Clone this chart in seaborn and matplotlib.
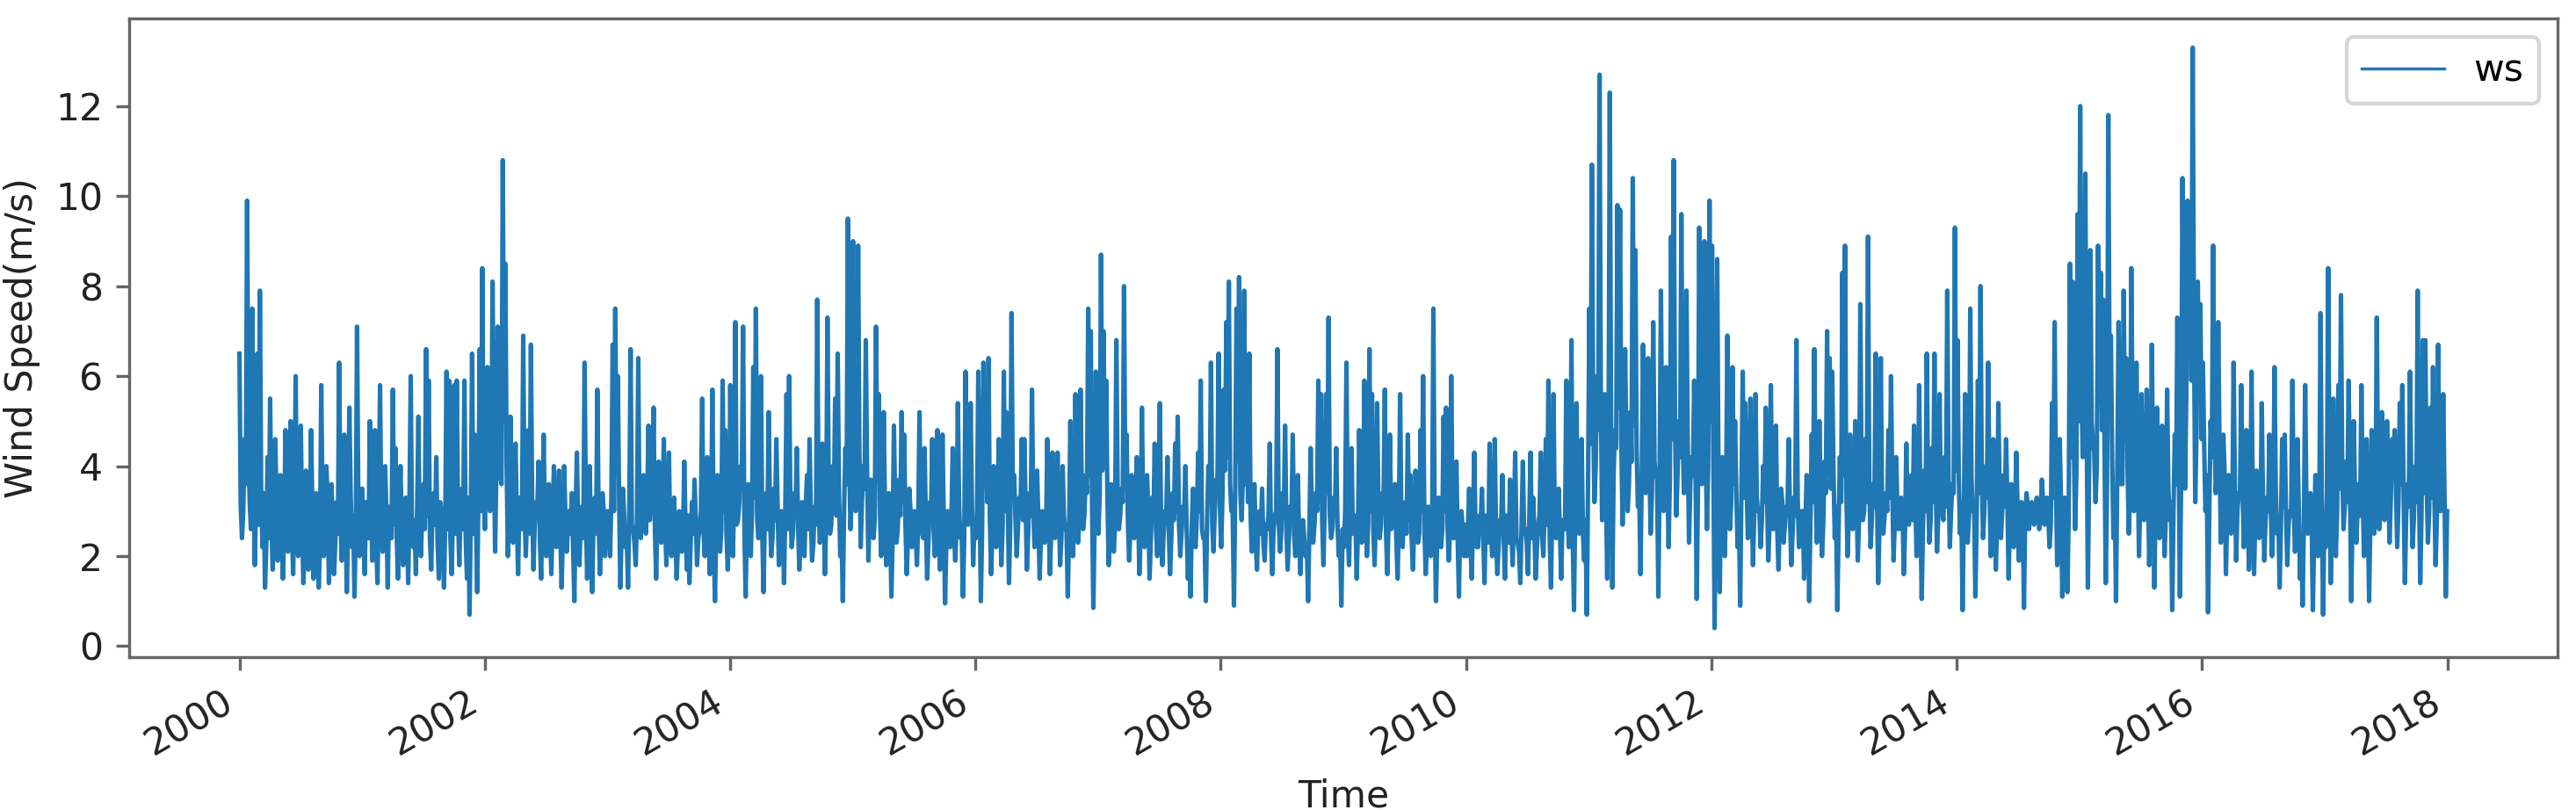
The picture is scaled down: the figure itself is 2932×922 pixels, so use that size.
import numpy as np
import pandas as pd
import matplotlib
matplotlib.use("Agg")
import matplotlib.pyplot as plt
import matplotlib.dates as mdates
import seaborn as sns

# Wind speed (m/s).
# ws_YYYY: readings at the start of each ~7.6-day slot (spikes / dips);
# ws_YYYY_mid: readings of the dense core band in the middle of each slot.
ws_2000 = [6.5,2.4,4.6,9.9,3.2,7.5,1.8,6.5,7.9,2.2,1.3,4.2,
           5.5,1.7,4.6,1.9,3.8,1.5,4.8,2.1,5.0,1.6,6.0,2.0,
           4.9,1.4,3.9,1.7,4.8,1.5,3.4,1.3,5.8,2.0,4.0,1.4,
           3.6,1.6,3.2,6.3,1.9,4.7,1.2,5.3,2.2,1.1,7.1,2.0]
ws_2000_mid = [3.1,3.0,3.6,4.4,2.6,4.0,3.3,2.7,3.5,3.4,2.2,2.4,
               2.9,2.5,3.2,2.3,3.0,2.6,2.9,3.4,2.7,3.1,2.4,3.3,
               2.8,2.1,3.0,2.5,3.2,2.4,2.9,2.2,3.1,2.6,3.3,2.4,
               2.8,2.3,2.5,3.0,2.4,3.1,2.7,3.4,2.9,2.6,3.2,2.7]
ws_2001 = [3.5,1.6,2.8,5.0,1.9,4.8,1.4,5.8,2.1,4.0,1.3,3.1,
           5.7,4.4,1.5,4.0,1.8,3.3,1.4,6.0,2.2,1.6,5.1,2.0,
           3.6,6.6,5.9,1.7,3.4,4.2,1.5,3.0,1.3,6.1,5.9,1.6,
           5.8,5.9,1.8,3.5,5.9,1.5,0.7,6.5,4.7,1.2,6.6,8.4]
ws_2001_mid = [2.6,3.2,2.4,3.0,2.8,2.3,3.3,2.7,2.5,2.9,3.1,2.4,
               2.7,2.5,3.0,2.6,2.3,2.9,3.2,2.5,2.8,3.0,2.4,3.1,
               2.6,2.9,2.4,3.0,2.7,2.3,3.2,2.5,2.8,2.6,2.4,3.0,
               2.5,2.9,3.1,2.6,2.4,3.3,2.9,2.5,2.8,3.4,3.0,3.6]
ws_2002 = [2.6,6.2,3.0,8.1,2.1,7.1,3.8,10.8,8.5,2.0,5.1,2.3,
           4.5,1.6,3.3,6.9,2.0,4.8,6.7,1.7,3.2,4.1,1.5,4.7,
           2.0,3.6,1.6,4.0,2.2,3.9,1.3,4.0,2.1,3.0,3.4,1.0,
           4.3,1.8,3.1,6.3,1.5,4.0,1.2,3.3,5.7,1.6,3.4,2.0]
ws_2002_mid = [3.8,4.2,3.5,4.6,3.9,4.4,3.6,5.0,4.1,3.4,3.0,3.7,
               2.8,3.3,2.6,3.1,2.9,2.5,3.2,2.7,3.0,2.4,2.9,2.6,
               3.1,2.5,2.8,2.3,3.0,2.6,2.4,2.9,2.7,2.5,2.2,3.0,
               2.6,2.8,2.4,3.1,2.7,2.3,2.9,2.5,2.8,2.4,3.0,2.6]
ws_2003 = [3.0,2.0,6.7,7.5,6.0,1.3,3.5,2.2,1.3,6.6,2.6,1.8,
           6.4,2.4,3.8,2.5,4.9,3.2,5.3,1.5,4.1,2.3,4.6,1.8,
           4.3,2.0,3.3,1.5,3.0,2.1,4.1,1.7,1.4,3.2,3.7,1.8,
           2.6,5.5,2.0,4.2,1.6,5.7,1.0,3.8,2.1,5.9,4.8,1.7]
ws_2003_mid = [2.8,3.4,3.0,3.9,3.3,2.6,2.9,2.4,3.1,2.7,2.3,2.9,
               2.6,3.0,2.7,3.2,2.8,3.5,2.6,3.0,2.5,2.9,2.7,3.1,
               2.4,2.8,2.5,2.2,2.7,2.4,2.6,2.9,2.3,2.5,2.8,2.4,
               3.0,2.6,2.9,2.5,2.8,2.4,2.7,3.1,2.6,3.0,2.5,2.8]
ws_2004 = [5.8,2.0,7.2,2.8,4.0,7.1,1.1,3.6,2.0,6.2,7.5,2.4,
           6.0,1.2,3.4,5.2,2.0,3.5,4.6,1.8,3.0,1.4,5.6,6.0,
           2.2,3.4,4.4,1.7,3.2,2.0,3.8,4.6,1.9,3.1,7.7,2.3,
           4.5,1.6,7.3,2.5,4.0,5.5,6.5,2.0,1.0,4.4,9.5,2.6]
ws_2004_mid = [3.0,3.4,2.7,3.2,3.6,2.6,2.9,2.5,3.0,3.3,2.8,3.1,
               2.5,2.9,2.6,3.0,2.4,2.8,3.1,2.5,2.7,3.0,2.6,3.2,
               2.5,2.9,2.7,2.4,2.8,3.1,2.6,2.9,2.3,2.7,3.3,2.6,
               3.0,2.8,3.4,2.7,3.1,2.9,3.5,2.6,3.0,3.6,4.2,3.4]
ws_2005 = [9.0,3.0,8.9,2.2,4.0,6.8,1.9,3.7,2.4,7.1,5.6,2.0,
           5.2,1.8,3.4,1.1,4.9,2.3,3.7,5.2,4.7,1.6,3.5,2.2,
           3.0,1.8,5.2,2.5,4.4,1.5,3.2,4.6,2.0,4.8,1.7,4.7,
           0.95,3.0,2.2,4.4,1.9,5.4,2.4,1.1,6.1,2.7,5.4,1.8]
ws_2005_mid = [4.0,3.6,4.3,3.2,3.5,3.9,2.9,3.3,2.8,3.7,3.1,2.6,
               3.0,2.5,2.8,2.4,3.1,2.6,2.9,3.2,2.7,2.4,3.0,2.6,
               2.5,2.8,3.0,2.4,2.7,2.3,2.9,2.6,2.5,3.0,2.4,2.8,
               2.3,2.6,2.9,2.5,2.7,3.1,2.6,2.4,3.0,2.8,3.2,2.7]
ws_2006 = [2.4,6.1,1.0,6.3,5.2,6.4,1.6,4.0,2.2,4.6,1.8,6.1,
           5.2,1.4,7.4,3.8,2.0,3.3,4.6,4.6,1.7,3.4,5.7,2.2,
           3.9,1.5,3.0,2.3,4.6,1.6,4.3,2.4,4.3,1.8,4.0,2.6,
           1.1,5.0,2.0,5.6,2.3,5.7,2.6,3.8,7.5,7.0,0.85,6.1]
ws_2006_mid = [3.0,3.4,2.6,3.6,3.2,2.9,2.5,3.1,2.8,3.3,2.6,3.0,
               3.4,2.7,3.5,2.9,2.6,3.0,2.8,3.2,2.5,2.9,3.1,2.6,
               2.8,2.4,2.9,2.6,3.0,2.5,2.8,2.7,3.1,2.4,2.9,2.6,
               2.5,3.0,2.7,3.2,2.8,3.3,2.9,3.4,3.8,3.1,2.7,3.5]
ws_2007 = [2.5,8.7,7.0,5.9,1.8,3.6,2.1,6.8,2.6,3.5,8.0,4.7,
           1.9,3.8,2.4,4.2,1.6,5.3,2.2,3.8,1.5,3.3,4.5,2.0,
           5.4,1.8,3.0,4.2,1.6,3.4,4.5,5.1,2.0,3.1,4.0,1.5,
           1.1,3.5,2.2,4.3,5.9,2.4,1.0,4.0,6.3,2.1,3.7,6.5]
ws_2007_mid = [3.4,3.9,4.0,3.3,2.8,3.0,2.7,3.5,2.9,3.2,3.6,2.8,
               2.6,3.0,2.7,3.1,2.5,2.9,2.6,3.0,2.4,2.8,2.6,3.1,
               2.7,2.5,2.9,2.6,2.4,2.8,3.0,2.7,2.5,2.9,2.6,2.3,
               2.7,2.5,2.9,3.0,2.6,2.4,2.8,3.2,2.7,3.0,3.4,3.1]
ws_2008 = [2.2,5.7,7.2,8.1,3.0,0.9,7.5,8.2,2.8,7.9,6.1,6.5,
           2.1,3.6,1.7,3.0,3.5,1.9,2.6,4.5,1.6,2.9,6.6,2.1,
           3.4,4.9,1.7,3.1,4.7,2.0,3.8,1.6,2.8,2.0,1.0,4.4,
           2.3,3.4,5.9,5.6,1.8,5.6,7.3,2.4,3.3,4.4,2.0,0.9]
ws_2008_mid = [3.3,3.9,4.2,3.6,3.0,3.5,4.1,3.4,3.8,3.6,3.2,2.9,
               2.7,2.4,2.8,2.5,2.3,2.7,2.9,2.4,2.6,3.0,2.8,2.5,
               2.9,2.6,2.4,2.8,2.5,2.7,2.3,2.6,2.4,2.2,2.6,2.9,
               2.7,3.0,3.2,2.8,3.1,3.4,2.9,2.6,3.0,2.7,2.4,2.6]
ws_2009 = [2.2,6.3,1.8,4.4,2.5,1.5,4.8,2.3,5.9,2.0,6.6,5.6,
           1.8,5.4,2.4,3.4,5.7,1.6,4.7,2.7,3.6,1.5,5.6,2.2,
           3.2,4.7,3.8,1.7,3.9,2.3,4.8,6.0,1.6,3.1,2.0,7.5,
           1.0,3.3,2.2,5.1,5.3,1.9,6.0,2.4,4.1,1.1,3.0,2.0]
ws_2009_mid = [3.0,2.7,3.1,2.5,2.9,2.6,3.2,2.8,3.4,2.7,3.0,2.6,
               2.9,3.1,2.7,3.2,2.5,2.9,2.6,3.0,2.4,2.8,2.6,3.1,
               2.5,2.8,2.4,2.7,2.9,2.5,3.0,2.6,2.3,2.7,2.5,2.9,
               2.4,2.8,2.6,3.0,2.7,2.5,2.9,2.6,2.4,2.8,2.5,2.7]
ws_2010 = [2.0,3.5,1.5,4.3,2.2,2.9,3.5,1.4,2.6,4.5,2.0,4.6,
           1.6,2.8,3.8,1.5,2.5,3.7,1.8,4.3,2.3,1.4,4.1,2.6,
           1.6,4.3,3.3,1.5,2.7,4.3,2.0,4.6,5.9,1.3,5.6,2.4,
           3.5,1.5,2.8,5.9,2.2,6.8,0.8,5.4,2.5,4.6,1.9,0.7]
ws_2010_mid = [2.6,2.3,2.8,2.5,2.2,2.7,2.4,2.9,2.3,2.6,2.8,2.5,
               2.2,2.7,2.4,2.9,2.3,2.6,2.8,2.4,2.1,2.7,2.5,2.3,
               2.8,2.4,2.6,2.2,2.9,2.5,3.0,2.7,2.4,3.1,2.6,2.9,
               2.5,2.8,2.6,3.0,2.7,2.4,3.2,2.6,2.9,2.5,2.8,3.6]
ws_2011 = [7.5,10.7,3.2,6.0,12.7,2.8,5.6,1.5,12.3,1.3,4.8,9.8,
           9.7,2.7,6.6,3.0,5.2,10.4,8.8,3.1,1.6,6.7,3.4,6.4,
           2.5,7.2,3.8,1.1,7.9,3.0,6.2,2.2,9.1,10.8,2.9,5.0,
           9.6,3.4,7.9,2.3,4.2,5.9,1.05,9.3,3.6,9.0,2.6,9.9]
ws_2011_mid = [4.5,5.2,4.0,4.8,5.5,3.9,3.6,4.2,5.0,3.8,4.4,5.3,
               4.6,3.9,4.3,3.6,4.1,4.9,4.4,3.5,3.8,4.2,3.6,4.0,
               3.4,4.1,3.7,3.9,4.3,3.5,4.0,3.7,4.6,5.1,3.8,4.2,
               4.7,3.9,4.4,3.6,3.8,4.1,3.5,4.8,3.9,4.5,4.0,5.0]
ws_2012 = [8.9,0.4,8.6,1.2,4.2,2.0,6.9,2.6,6.2,5.0,2.2,0.9,
           6.1,5.4,2.4,5.5,1.8,5.6,3.0,2.2,4.0,5.3,1.9,5.8,
           2.6,4.9,1.7,3.5,2.3,3.1,4.6,1.8,3.3,6.8,2.2,3.0,
           1.5,3.8,1.0,4.7,6.6,2.3,5.0,2.0,4.1,7.0,6.4,6.1]
ws_2012_mid = [4.2,3.6,4.0,3.3,3.8,3.5,3.9,3.2,3.6,3.4,3.0,3.5,
               3.3,3.7,3.1,3.4,2.9,3.3,3.0,2.8,3.2,3.4,2.7,3.1,
               3.0,2.6,2.9,3.2,2.7,3.0,2.8,2.5,2.9,3.3,2.6,3.0,
               2.7,3.1,2.8,3.2,3.5,2.9,3.3,2.7,3.4,3.8,3.5,3.9]
ws_2013 = [2.4,0.8,4.2,8.3,8.9,2.0,4.7,2.6,5.0,1.9,7.6,2.8,
           4.6,9.1,2.2,3.6,6.5,1.4,6.4,2.5,3.4,4.8,6.0,1.9,
           4.2,2.6,3.3,1.6,4.5,2.7,3.8,4.9,2.0,5.8,1.05,3.9,
           6.5,2.3,4.4,6.5,2.1,5.6,3.0,4.2,7.9,2.2,3.6,9.3]
ws_2013_mid = [3.1,2.6,3.2,3.8,3.5,2.9,3.3,2.7,3.4,2.8,3.6,3.0,
               3.2,3.7,2.8,3.1,3.4,2.7,3.2,2.9,3.0,3.3,3.5,2.8,
               3.1,2.7,3.0,2.6,2.9,3.2,2.8,3.3,2.7,3.1,2.6,3.0,
               3.4,2.8,3.2,3.6,2.9,3.3,2.8,3.1,3.7,3.0,3.4,3.9]
ws_2014 = [6.8,2.5,0.8,5.6,2.3,7.5,3.0,1.1,5.9,8.0,2.4,4.0,
           6.3,2.0,4.6,1.7,5.4,2.4,3.8,4.6,1.5,3.6,2.2,4.3,
           1.9,3.2,0.85,3.4,2.6,3.2,2.7,3.3,2.6,3.7,2.7,3.3,
           2.2,5.4,7.2,1.8,4.6,1.1,3.3,1.2,8.5,8.1,2.6,9.6]
ws_2014_mid = [3.8,3.2,3.0,3.5,2.9,3.7,3.1,2.8,3.4,3.8,3.0,3.3,
               3.6,2.9,3.2,2.7,3.4,3.0,3.1,3.3,2.8,3.2,2.9,3.1,
               2.8,3.0,2.9,3.1,3.0,2.9,3.1,3.0,2.9,3.2,3.0,2.9,
               2.7,3.3,3.6,2.8,3.2,2.7,3.0,2.9,4.2,4.6,3.8,5.0]
ws_2015 = [12.0,4.2,10.5,1.3,8.8,4.5,3.2,8.9,8.3,7.7,1.4,11.8,
           6.9,2.4,1.0,7.2,3.6,7.9,6.4,2.5,8.4,3.0,6.3,2.0,
           5.6,2.8,5.7,1.8,6.7,1.3,5.3,2.4,4.9,2.0,5.7,2.8,
           0.8,4.7,7.3,1.1,10.4,3.5,9.9,8.8,13.3,3.2,8.1,7.6]
ws_2015_mid = [5.8,4.6,5.2,3.9,5.0,4.3,4.0,5.4,4.8,4.4,3.6,5.6,
               4.2,3.5,3.8,4.5,3.6,4.7,4.0,3.4,4.8,3.7,4.1,3.3,
               3.9,3.4,3.8,3.1,4.0,3.2,3.6,3.0,3.4,2.9,3.5,3.2,
               3.0,3.6,4.5,3.8,6.2,5.5,6.4,5.9,7.0,4.8,5.6,4.6]
ws_2016 = [6.3,3.0,0.75,5.0,8.9,3.4,7.2,2.3,4.7,1.6,3.8,2.5,
           6.3,1.9,3.4,5.8,2.2,4.8,1.7,6.1,1.6,3.9,2.4,5.4,
           1.9,3.3,4.7,2.0,6.2,2.5,1.3,4.6,4.7,1.8,3.0,5.9,
           2.1,4.6,1.5,0.9,5.8,2.5,3.4,0.8,3.8,2.0,7.4,0.7]
ws_2016_mid = [4.4,3.8,3.0,4.2,5.0,3.9,4.4,3.3,3.8,3.0,3.2,2.9,
               3.6,3.0,3.3,3.5,2.8,3.2,2.7,3.4,2.9,3.1,2.6,3.3,
               2.8,3.0,3.2,2.7,3.5,2.9,2.6,3.1,3.0,2.7,2.9,3.2,
               2.6,3.0,2.5,2.8,3.1,2.6,2.9,2.4,3.0,2.7,3.3,2.9]
ws_2017 = [2.2,8.4,1.4,5.5,2.0,5.8,7.8,2.6,4.1,5.9,1.0,5.0,
           2.3,3.6,5.8,2.0,4.6,1.0,4.8,2.5,7.3,2.6,5.2,2.8,
           5.0,2.3,4.6,4.8,2.2,5.4,5.8,1.4,3.6,6.1,2.2,4.0,
           7.9,1.4,6.8,6.8,2.3,5.3,6.2,1.8,6.7,3.0,5.6,1.1]
ws_2017_mid = [3.4,3.8,2.9,3.3,3.0,3.5,3.9,3.1,3.2,3.6,2.8,3.3,
               3.0,2.9,3.4,2.7,3.1,2.8,3.3,3.0,3.7,3.2,3.5,3.1,
               3.6,3.3,3.8,3.5,3.2,3.6,3.4,2.9,3.1,3.5,2.8,3.2,
               3.6,2.9,3.4,3.7,3.0,3.3,3.5,2.8,3.6,3.1,3.4,3.0]

slot_readings = [ws_2000, ws_2001, ws_2002, ws_2003, ws_2004, ws_2005,
                 ws_2006, ws_2007, ws_2008, ws_2009, ws_2010, ws_2011,
                 ws_2012, ws_2013, ws_2014, ws_2015, ws_2016, ws_2017]
mid_readings = [ws_2000_mid, ws_2001_mid, ws_2002_mid, ws_2003_mid,
                ws_2004_mid, ws_2005_mid, ws_2006_mid, ws_2007_mid,
                ws_2008_mid, ws_2009_mid, ws_2010_mid, ws_2011_mid,
                ws_2012_mid, ws_2013_mid, ws_2014_mid, ws_2015_mid,
                ws_2016_mid, ws_2017_mid]

ws = np.concatenate([
    np.column_stack([np.asarray(a, float), np.asarray(b, float)]).ravel()
    for a, b in zip(slot_readings, mid_readings)
])
times = pd.date_range("2000-01-01", "2017-12-31", periods=len(ws))
df = pd.DataFrame({"Time": times, "ws": ws})

DPI = 306
fig = plt.figure(figsize=(2932 / DPI, 922 / DPI), dpi=DPI)
ax = fig.add_axes([0.0501, 0.1887, 0.9427, 0.7883])

sns.lineplot(data=df, x="Time", y="ws", ax=ax, color="#1f77b4",
             linewidth=1.2, label="ws")

ax.xaxis.set_major_locator(mdates.YearLocator(2))
ax.xaxis.set_major_formatter(mdates.DateFormatter("%Y"))
plt.setp(ax.get_xticklabels(), rotation=30, ha="right")

ax.set_xlabel("Time", fontsize=10, color="#222222")
ax.set_ylabel("Wind Speed(m/s)", fontsize=10, color="#222222")
ax.tick_params(axis="both", labelsize=10, colors="#666666", labelcolor="#222222")
for s in ax.spines.values():
    s.set_color("#666666")

leg = ax.legend(loc="upper right", fontsize=10, handlelength=2.2)
for h in leg.get_lines():
    h.set_linewidth(0.8)

fig.savefig("out.png", dpi=DPI)
